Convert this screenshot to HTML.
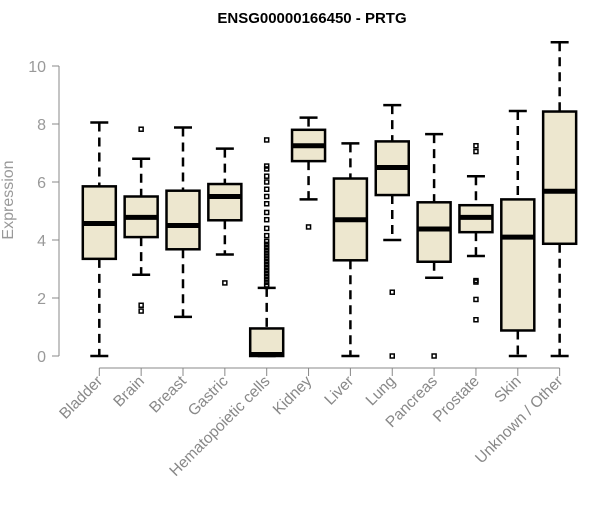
<!DOCTYPE html>
<html><head><meta charset="utf-8"><style>
body{margin:0;background:#fff}
svg text{font-family:"Liberation Sans",Arial,sans-serif}
</style></head><body>
<svg id="c" width="600" height="500">
<text x="312" y="23" text-anchor="middle" font-weight="bold" font-size="15">ENSG00000166450 - PRTG</text>
<text transform="translate(13,200) rotate(-90)" text-anchor="middle" font-size="16" fill="#999">Expression</text>
</svg>
<script>
const categories=["Bladder","Brain","Breast","Gastric","Hematopoietic cells","Kidney","Liver","Lung","Pancreas","Prostate","Skin","Unknown / Other"];
const lows=[0,2.8,1.35,3.5,0,5.4,0,4.0,2.7,3.45,0,0];
const q1s=[3.35,4.1,3.68,4.68,0,6.72,3.3,5.55,3.25,4.27,0.88,3.87];
const medians=[4.57,4.78,4.5,5.5,0.05,7.25,4.7,6.5,4.38,4.78,4.1,5.68];
const q3s=[5.85,5.5,5.7,5.93,0.95,7.8,6.12,7.4,5.3,5.2,5.4,8.43];
const highs=[8.05,6.8,7.88,7.15,2.35,8.22,7.33,8.65,7.65,6.2,8.45,10.82];
const outliers=[[],[7.82,1.75,1.55],[],[2.52],[7.45,6.55,6.45,6.2,6.0,5.75,5.5,5.25,4.95,4.7,4.4,4.15,3.95,3.85,3.75,3.65,3.55,3.45,3.35,3.25,3.15,3.05,2.95,2.85,2.75,2.65,2.55,2.45,2.4],[4.45],[],[2.2,0],[0],[7.25,7.05,2.6,2.55,1.95,1.25],[],[]];
const yTicks=[0,2,4,6,8,10];
const NS="http://www.w3.org/2000/svg",svg=document.getElementById("c");
const y=v=>356-29*v, x=i=>99.3+41.85*i;
function mk(t,a,p){const e=document.createElementNS(NS,t);for(const k in a)e.setAttribute(k,a[k]);(p||svg).appendChild(e);return e;}
const ax=mk("g",{});


mk("line",{x1:59,y1:y(0),x2:59,y2:y(10),stroke:"#888"},ax);
yTicks.forEach(t=>{mk("line",{x1:52,y1:y(t),x2:59,y2:y(t),stroke:"#888"},ax);
 const tx=mk("text",{x:46,y:y(t)+6,"text-anchor":"end","font-size":16,fill:"#999"},ax);tx.textContent=t;
 
 });
const xa=mk("g",{});


mk("line",{x1:x(0),y1:368,x2:x(11),y2:368,stroke:"#888"},xa);
categories.forEach((c,i)=>{
 mk("line",{x1:x(i),y1:368,x2:x(i),y2:376,stroke:"#888"},xa);
 const t=mk("text",{transform:`translate(${x(i)+4},${382}) rotate(-45)`,"text-anchor":"end","font-size":15.5,fill:"#888"},xa);t.textContent=c;
 
 
 const g=mk("g",{});
 
 
 const cx=x(i),w=16.5;
 mk("line",{x1:cx,y1:y(highs[i]),x2:cx,y2:y(q3s[i]),stroke:"#000","stroke-width":2.5,"stroke-dasharray":"9,6"},g);
 mk("line",{x1:cx,y1:y(q1s[i]),x2:cx,y2:y(lows[i]),stroke:"#000","stroke-width":2.5,"stroke-dasharray":"9,6"},g);
 mk("line",{x1:cx-9,y1:y(highs[i]),x2:cx+9,y2:y(highs[i]),stroke:"#000","stroke-width":2.5},g);
 mk("line",{x1:cx-9,y1:y(lows[i]),x2:cx+9,y2:y(lows[i]),stroke:"#000","stroke-width":2.5},g);
 mk("rect",{x:cx-w,y:y(q3s[i]),width:2*w,height:Math.max(y(q1s[i])-y(q3s[i]),0.5),fill:"#ede7cf",stroke:"#000","stroke-width":2.5},g);
 mk("line",{x1:cx-w,y1:y(medians[i]),x2:cx+w,y2:y(medians[i]),stroke:"#000","stroke-width":5},g);
 outliers[i].forEach(o=>mk("rect",{x:cx-2,y:y(o)-2,width:4,height:4,fill:"none",stroke:"#000","stroke-width":1.5},g));
});
</script>
</body></html>
